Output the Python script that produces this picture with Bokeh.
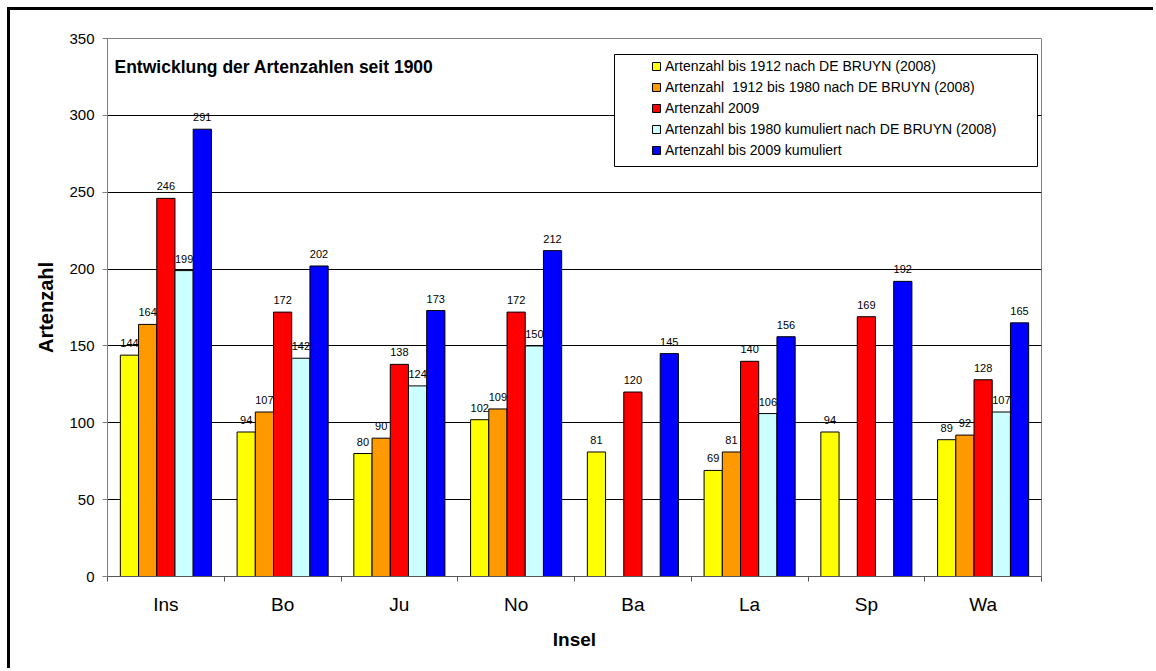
from bokeh.plotting import figure
from bokeh.models import (Range1d, FixedTicker, ColumnDataSource, Legend, LegendItem,
                          Label, BoxAnnotation)
from bokeh.embed import file_html
from bokeh.resources import INLINE
from bokeh.core.properties import value

# ---- data ----
islands = ["Ins", "Bo", "Ju", "No", "Ba", "La", "Sp", "Wa"]
bis_1912 = [144, 94, 80, 102, 81, 69, 94, 89]
von_1912_bis_1980 = [164, 107, 90, 109, None, 81, None, 92]
stand_2009 = [246, 172, 138, 172, 120, 140, 169, 128]
kumuliert_1980 = [199, 142, 124, 150, None, 106, None, 107]
kumuliert_2009 = [291, 202, 173, 212, 145, 156, 192, 165]

series_labels = [
    "Artenzahl bis 1912 nach DE BRUYN (2008)",
    "Artenzahl  1912 bis 1980 nach DE BRUYN (2008)",
    "Artenzahl 2009",
    "Artenzahl bis 1980 kumuliert nach DE BRUYN (2008)",
    "Artenzahl bis 2009 kumuliert",
]
series_values = [bis_1912, von_1912_bis_1980, stand_2009, kumuliert_1980, kumuliert_2009]
series_colors = ["#FFFF00", "#FF9900", "#FF0000", "#CCFFFF", "#0000FF"]
y_ticks = [0, 50, 100, 150, 200, 250, 300, 350]

FONT = "Liberation Sans"
BW = 0.156

p = figure(width=1146, height=661, output_backend="svg", toolbar_location=None,
           x_range=Range1d(-0.5, len(islands) - 0.5), y_range=Range1d(0, 350),
           min_border_left=97, min_border_top=28, min_border_right=115, min_border_bottom=95)
p.styles = {"border-left": "3px solid black", "border-top": "3px solid black",
            "margin-left": "7px", "margin-top": "7px"}
p.outline_line_color = "#808080"
p.background_fill_color = "white"
p.border_fill_color = "white"

p.xgrid.visible = False
p.ygrid.grid_line_color = "black"
p.ygrid.grid_line_width = 1
p.ygrid.ticker = FixedTicker(ticks=y_ticks)

# y axis
p.yaxis.ticker = FixedTicker(ticks=y_ticks)
p.yaxis.axis_label = "Artenzahl"
p.yaxis.axis_label_text_font = FONT
p.yaxis.axis_label_text_font_style = "bold"
p.yaxis.axis_label_text_font_size = "20px"
p.yaxis.axis_label_text_color = "black"
p.yaxis.axis_label_standoff = 9
p.yaxis.major_label_text_font = FONT
p.yaxis.major_label_text_font_size = "15px"
p.yaxis.major_label_text_color = "black"
p.yaxis.major_label_standoff = 8
p.yaxis.major_tick_out = 5
p.yaxis.major_tick_in = 0
p.yaxis.minor_tick_out = 0
p.yaxis.minor_tick_in = 0
p.yaxis.axis_line_color = "#808080"
p.yaxis.major_tick_line_color = "#808080"

# x axis
p.xaxis.ticker = FixedTicker(ticks=list(range(len(islands))),
                             minor_ticks=[i - 0.5 for i in range(len(islands) + 1)])
p.xaxis.major_label_overrides = {i: name for i, name in enumerate(islands)}
p.xaxis.axis_label = "Insel"
p.xaxis.axis_label_text_font = FONT
p.xaxis.axis_label_text_font_style = "bold"
p.xaxis.axis_label_text_font_size = "19px"
p.xaxis.axis_label_text_color = "black"
p.xaxis.axis_label_standoff = 11
p.xaxis.major_label_text_font = FONT
p.xaxis.major_label_text_font_size = "19px"
p.xaxis.major_label_text_color = "black"
p.xaxis.major_label_standoff = 12
p.xaxis.major_tick_out = 0
p.xaxis.major_tick_in = 0
p.xaxis.minor_tick_out = 5
p.xaxis.minor_tick_in = 0
p.xaxis.axis_line_color = "#555555"
p.xaxis.minor_tick_line_color = "#555555"

renderers = []
sources = []
for k, (vals, color) in enumerate(zip(series_values, series_colors)):
    xs, ys, txt = [], [], []
    for i, v in enumerate(vals):
        if v is None:
            continue
        xs.append(i + (k - 2) * BW)
        ys.append(v)
        txt.append(str(v))
    src = ColumnDataSource(dict(x=xs, top=ys, label=txt))
    r = p.vbar(x="x", top="top", width=BW, bottom=0, source=src,
               fill_color=color, line_color="black", line_width=1)
    renderers.append(r)
    sources.append(src)

for src in sources:
    p.text(x="x", y="top", text="label", source=src, text_align="center",
           text_baseline="middle", y_offset=-12, text_font=value(FONT),
           text_font_size="11px", text_color="black")

# title inside plot
p.add_layout(Label(x=7, y=510, x_units="screen", y_units="screen",
                   text="Entwicklung der Artenzahlen seit 1900", text_font=FONT,
                   text_font_style="bold", text_font_size="17.5px",
                   text_baseline="middle", text_color="black"))

# legend box
p.add_layout(BoxAnnotation(left=507, right=930, top=522, bottom=410,
                           left_units="screen", right_units="screen",
                           top_units="screen", bottom_units="screen",
                           fill_color="white", fill_alpha=1.0,
                           line_color="black", line_width=1, line_alpha=1.0))

legend = Legend(items=[LegendItem(label=lab, renderers=[r]) for lab, r in zip(series_labels, renderers)],
                location=(542, 415), glyph_width=10, glyph_height=10,
                label_text_font=FONT, label_text_font_size="14px", label_text_color="black",
                label_height=18, spacing=3, padding=2, margin=0, label_standoff=4,
                border_line_alpha=0, background_fill_alpha=0)
p.add_layout(legend, "center")

open("out.html", "w").write(file_html(p, INLINE))
